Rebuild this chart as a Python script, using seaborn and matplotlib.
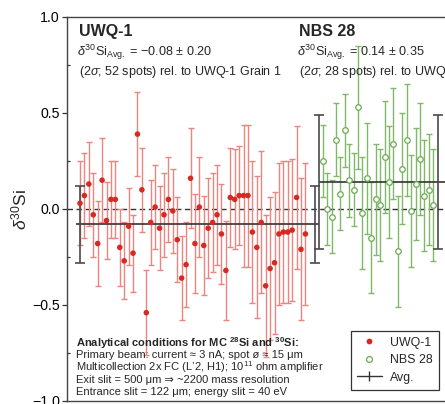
import numpy as np
import pandas as pd
import matplotlib
matplotlib.use("Agg")
import matplotlib.pyplot as plt
import seaborn as sns
from matplotlib.lines import Line2D

# ---------------- data ----------------
uwq_values = [0.03, 0.07, 0.13, -0.03, -0.18, 0.15, -0.06, 0.05, 0.05, -0.20,
              -0.27, -0.09, -0.23, 0.39, 0.10, -0.54, -0.07, 0.01, -0.10, -0.03,
              0.05, -0.01, -0.16, -0.36, -0.29, 0.16, -0.18, 0.01, -0.19, -0.10,
              -0.07, -0.03, -0.13, -0.32, 0.06, 0.05, 0.07, 0.07, 0.07, -0.12,
              -0.20, -0.07, -0.40, -0.31, -0.28, -0.13, -0.12, -0.12, -0.11, 0.06,
              -0.21, -0.13]
uwq_errors = [0.22, 0.22, 0.22, 0.22, 0.22, 0.22, 0.20, 0.20, 0.20, 0.20,
              0.20, 0.20, 0.20, 0.22, 0.22, 0.22, 0.22, 0.22, 0.22, 0.22,
              0.22, 0.22, 0.22, 0.22, 0.22, 0.26, 0.26, 0.26, 0.26, 0.26,
              0.26, 0.26, 0.26, 0.26, 0.26, 0.26, 0.26, 0.37, 0.37, 0.37,
              0.37, 0.37, 0.37, 0.37, 0.37, 0.37, 0.37, 0.37, 0.37, 0.37,
              0.37, 0.37]
nbs_values = [0.25, 0.00, -0.04, 0.36, 0.08, 0.41, 0.15, 0.10, 0.53, -0.02,
              0.16, -0.15, 0.05, 0.02, 0.27, 0.14, 0.34, -0.22, 0.21, 0.36,
              -0.01, 0.13, 0.26, 0.07, 0.10, 0.02]
nbs_errors = [0.19, 0.19, 0.19, 0.19, 0.19, 0.19, 0.19, 0.19, 0.32, 0.29,
              0.29, 0.29, 0.29, 0.29, 0.29, 0.29, 0.29, 0.29, 0.29, 0.29,
              0.29, 0.29, 0.29, 0.29, 0.29, 0.29]
sample_names = ["UWQ-1", "NBS 28"]
avg_values = [-0.08, 0.14]
avg_errors = [0.20, 0.35]
spot_counts = [52, 28]
ytick_values = [-1.0, -0.5, 0.0, 0.5, 1.0]
ytick_labels = ["\u22121.0", "\u22120.5", "0.0", "0.5", "1.0"]
conditions = [
    r"Primary beam: current ≈ 3 nA; spot ø ≈ 15 μm",
    r"Multicollection 2x FC (L’2, H1); 10$^{11}$ ohm amplifier",
    r"Exit slit = 500 μm ⇒ ~2200 mass resolution",
    r"Entrance slit = 122 μm; energy slit = 40 eV",
]

# ---------------- style ----------------
sns.set_style("white")
plt.rcParams["font.family"] = ["Liberation Sans", "DejaVu Sans"]
plt.rcParams["mathtext.fontset"] = "custom"
plt.rcParams["mathtext.rm"] = "Liberation Sans"
plt.rcParams["mathtext.it"] = "Liberation Sans:italic"
plt.rcParams["mathtext.bf"] = "Liberation Sans:bold"
plt.rcParams["axes.unicode_minus"] = True

RED = "#d42a22"
RED_BAR = "#ec8480"
GREEN = "#6aab52"
GREEN_BAR = "#80b86a"
DARK = "#333333"

fig = plt.figure(figsize=(4.45, 4.04), dpi=100)
ax = fig.add_axes([67 / 445, 3 / 404, 383 / 445, 384 / 404])

df_u = pd.DataFrame({"x": np.arange(len(uwq_values)) * 1.0,
                     "y": uwq_values, "err": uwq_errors})
df_n = pd.DataFrame({"x": np.arange(len(nbs_values)) + 54.9,
                     "y": nbs_values, "err": nbs_errors})

ax.axhline(0, color=DARK, lw=1.0, ls=(0, (4, 2.5)), zorder=1)

ax.errorbar(df_u["x"], df_u["y"], yerr=df_u["err"], fmt="none", ecolor=RED_BAR,
            elinewidth=1.0, capsize=2.3, capthick=1.0, zorder=2)
ax.errorbar(df_n["x"], df_n["y"], yerr=df_n["err"], fmt="none", ecolor=GREEN_BAR,
            elinewidth=1.0, capsize=2.3, capthick=1.0, zorder=2)

sns.scatterplot(data=df_u, x="x", y="y", color=RED, s=16, edgecolor="none",
                ax=ax, zorder=4, legend=False)
sns.scatterplot(data=df_n, x="x", y="y", color="white", edgecolor=GREEN, s=16,
                linewidth=0.9, ax=ax, zorder=4, legend=False)

# averages
avg_line_x = [(-0.9, 54.1), (54.1, 86.0)]
avg_bar_x = [(0.0, 53.2), (54.1, 80.9)]
for val, err, (x0, x1), bx in zip(avg_values, avg_errors, avg_line_x, avg_bar_x):
    ax.hlines(val, x0, x1, color=DARK, lw=1.2, zorder=3)
    ax.errorbar(list(bx), [val, val], yerr=err, fmt="none", ecolor="#4a4a4a",
                elinewidth=1.2, capsize=3.3, capthick=1.2, zorder=3)

ax.set_xlim(-2.94, 83.7)
ax.set_ylim(-1.0, 1.0)
ax.set_xticks([])
ax.set_xlabel("")
ax.set_yticks(ytick_values)
ax.set_yticklabels(ytick_labels)
ax.set_yticks([-0.75, -0.25, 0.25, 0.75], minor=True)
ax.tick_params(axis="y", which="major", direction="out", length=3.5, width=0.9,
               labelsize=10.2, pad=1.8, left=True, colors="#333333", labelcolor="black")
ax.tick_params(axis="y", which="minor", direction="in", length=2.5, width=0.9,
               left=True, colors="#333333")
for sp in ax.spines.values():
    sp.set_color("#444444")
    sp.set_linewidth(1.0)

ax.set_ylabel(r"$\delta^{30}$Si", fontsize=12.5)
ax.yaxis.set_label_coords(-0.097, 0.5)

# annotations
title_x = [-0.23, 49.5]
sub_x = [-0.68, 49.1]
for name, avg, err, n, tx, sx in zip(sample_names, avg_values, avg_errors,
                                      spot_counts, title_x, sub_x):
    ax.text(tx, 0.922, name, fontsize=11.5, fontweight="bold", va="center", ha="left")
    sign = "\u2212" if avg < 0 else ""
    ax.text(sx, 0.818, r"$\delta^{30}$Si$_{\mathrm{Avg.}}$ = " + f"{sign}{abs(avg):.2f} ± {err:.2f}",
            fontsize=9.1, va="center", ha="left")
    ax.text(tx, 0.715, r"(2$\sigma$; " + f"{n} spots) rel. to UWQ-1 Grain 1",
            fontsize=9.0, va="center", ha="left")

ax.text(-0.9, -0.696, r"Analytical conditions for MC $^{\mathbf{28}}$Si and $^{\mathbf{30}}$Si:",
        fontsize=8, fontweight="bold", va="center", ha="left")
for i, line in enumerate(conditions):
    ax.text(-0.9, -0.760 - 0.0645 * i, line, fontsize=8, va="center", ha="left")

handles = [
    Line2D([], [], ls="none", marker="o", color=RED, markeredgecolor="none", markersize=4.2),
    Line2D([], [], ls="none", marker="o", markerfacecolor="white",
           markeredgecolor=GREEN, markersize=4.2, markeredgewidth=0.9),
    Line2D([], [], color=DARK, lw=1.0, marker="|", markersize=7, markeredgewidth=1.0),
]
leg = ax.legend(handles, ["UWQ-1", "NBS 28", "Avg."], loc="lower right",
                bbox_to_anchor=(439 / 445, 14 / 404), bbox_transform=fig.transFigure,
                borderaxespad=0, frameon=True, fancybox=False, framealpha=1,
                edgecolor="#333333", fontsize=8.9, handlelength=2.0,
                labelspacing=0.45, borderpad=0.5, handletextpad=0.7)
leg.get_frame().set_linewidth(0.9)

fig.savefig("out.png", dpi=100)
